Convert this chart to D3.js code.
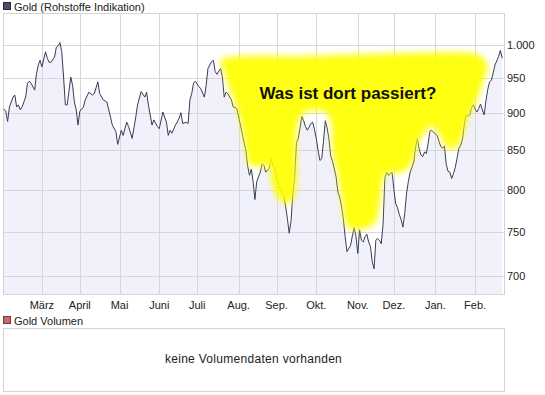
<!DOCTYPE html>
<html>
<head>
<meta charset="utf-8">
<script src="https://cdn.jsdelivr.net/npm/d3@7"></script>
<style>
  body { margin: 0; background: #fff; }
  svg { display: block; font-family: "Liberation Sans", Arial, sans-serif; }
</style>
</head>
<body>
<svg id="chart" width="545" height="395"></svg>
<script>
// Gold price, trading days Feb 2008 - Feb 2009
const dates = [
  "2008-02-01","2008-02-04","2008-02-05","2008-02-06","2008-02-08","2008-02-11","2008-02-12","2008-02-13","2008-02-14","2008-02-15",
  "2008-02-19","2008-02-20","2008-02-21","2008-02-22","2008-02-26","2008-02-27","2008-02-28","2008-02-29",
  "2008-03-03","2008-03-05","2008-03-06","2008-03-07","2008-03-10","2008-03-12","2008-03-13","2008-03-14","2008-03-17","2008-03-18",
  "2008-03-19","2008-03-20","2008-03-21","2008-03-25","2008-03-26","2008-03-27","2008-03-28","2008-03-31",
  "2008-04-01","2008-04-03","2008-04-04","2008-04-08","2008-04-10","2008-04-11","2008-04-15","2008-04-16","2008-04-18","2008-04-22",
  "2008-04-24","2008-04-25","2008-04-29","2008-04-30",
  "2008-05-02","2008-05-05","2008-05-07","2008-05-08","2008-05-12","2008-05-14","2008-05-15","2008-05-19","2008-05-21","2008-05-22",
  "2008-05-23","2008-05-27","2008-05-28","2008-05-30",
  "2008-06-02","2008-06-04","2008-06-06","2008-06-09","2008-06-10","2008-06-11","2008-06-13","2008-06-17","2008-06-18","2008-06-19",
  "2008-06-23","2008-06-24","2008-06-25","2008-06-26","2008-06-27","2008-06-30",
  "2008-07-02","2008-07-03","2008-07-07","2008-07-08","2008-07-09","2008-07-11","2008-07-14","2008-07-15","2008-07-16","2008-07-18",
  "2008-07-21","2008-07-22","2008-07-23","2008-07-24","2008-07-28","2008-07-29","2008-07-31",
  "2008-08-04","2008-08-06","2008-08-07","2008-08-08","2008-08-11","2008-08-12","2008-08-13","2008-08-14","2008-08-15","2008-08-19",
  "2008-08-20","2008-08-21","2008-08-22","2008-08-26","2008-08-27","2008-08-28","2008-08-29",
  "2008-09-01","2008-09-02","2008-09-03","2008-09-04","2008-09-05","2008-09-08","2008-09-09","2008-09-10","2008-09-11","2008-09-12",
  "2008-09-15","2008-09-16","2008-09-17","2008-09-18","2008-09-19","2008-09-22","2008-09-23","2008-09-24","2008-09-25","2008-09-26",
  "2008-09-29","2008-09-30",
  "2008-10-01","2008-10-02","2008-10-03","2008-10-06","2008-10-07","2008-10-08","2008-10-09","2008-10-10","2008-10-13","2008-10-14",
  "2008-10-15","2008-10-16","2008-10-17","2008-10-20","2008-10-21","2008-10-22","2008-10-23","2008-10-24","2008-10-28","2008-10-29",
  "2008-10-30","2008-10-31",
  "2008-11-03","2008-11-04","2008-11-05","2008-11-06","2008-11-07","2008-11-10","2008-11-11","2008-11-12","2008-11-13","2008-11-14",
  "2008-11-17","2008-11-18","2008-11-19","2008-11-20","2008-11-21","2008-11-24","2008-11-25","2008-11-26","2008-11-27","2008-11-28",
  "2008-12-01","2008-12-02","2008-12-03","2008-12-04","2008-12-05","2008-12-08","2008-12-09","2008-12-10","2008-12-11","2008-12-12",
  "2008-12-15","2008-12-16","2008-12-17","2008-12-18","2008-12-19","2008-12-22","2008-12-23","2008-12-24","2008-12-25","2008-12-26",
  "2008-12-29","2008-12-30","2008-12-31",
  "2009-01-01","2009-01-02","2009-01-05","2009-01-06","2009-01-07","2009-01-08","2009-01-09","2009-01-12","2009-01-13","2009-01-14",
  "2009-01-15","2009-01-16","2009-01-19","2009-01-20","2009-01-21","2009-01-22","2009-01-23","2009-01-26","2009-01-27","2009-01-28",
  "2009-01-29","2009-01-30",
  "2009-02-02","2009-02-03","2009-02-04","2009-02-05","2009-02-06","2009-02-09","2009-02-10","2009-02-11","2009-02-12","2009-02-13",
  "2009-02-16","2009-02-17","2009-02-18","2009-02-19","2009-02-20","2009-02-23"
];
const prices = [
  906,903,889,909,923,926,909,912,905,909,
  923,943,946,943,933,957,970,977,
  967,990,980,974,974,982,997,999,1004,990,
  952,912,912,952,940,916,905,884,
  903,909,919,930,926,928,945,928,919,916,
  895,884,875,858,
  877,870,888,882,866,895,912,931,923,930,
  912,884,891,882,
  879,902,888,870,877,873,884,893,901,886,
  888,886,919,928,943,946,
  938,935,923,940,965,975,977,960,956,965,
  952,923,930,928,919,909,907,
  884,861,850,830,818,826,810,788,810,822,
  833,831,822,827,840,830,828,
  815,805,800,796,792,780,765,748,762,795,
  815,860,866,880,896,890,882,877,881,886,
  888,878,
  866,850,837,839,862,890,880,866,843,836,
  826,816,797,791,780,765,744,727,734,745,
  755,744,
  725,752,740,738,744,747,738,733,716,708,
  740,742,740,736,758,815,822,818,820,822,
  800,783,778,770,764,755,771,795,810,822,
  828,835,855,866,852,844,842,848,846,860,
  876,877,874,
  872,870,862,855,853,856,832,823,822,814,
  820,828,840,853,857,865,885,898,896,898,
  908,912,
  906,902,907,913,905,898,918,934,945,947,
  958,970,976,983,992,980
];

const monthLabels = ["März","April","Mai","Juni","Juli","Aug.","Sep.","Okt.","Nov.","Dez.","Jan.","Feb."];
const yTicks = [700, 750, 800, 850, 900, 950, 1000];
const yDomain = [681, 1051];

// yellow marker blob, as [trading day index, price]
const highlight = [
  [120,977],[131,983],[164,983],[197,986],[230,988],[258,988],[265,982],[268,968],[266,950],
  [262,919],[257,893],[254,869],[250,853],[245,854],[242,868],[237,882],[233,874],[229,857],
  [227,840],[224,827],[218,821],[212,821],[210,812],[208,781],[206,761],[201,754],[192,753],
  [189,761],[187,790],[185,818],[182,850],[181,888],[178,902],[167,902],[163,888],[162,864],
  [162,806],[160,787],[156,783],[151,792],[148,812],[147,829],[142,830],[136,831],[134,850],
  [132,877],[129,907],[125,933],[122,959]
];
const noteText = "Was ist dort passiert?";
const notePos = [190.5, 921];

const parse = d3.timeParse("%Y-%m-%d");
const weekday = d3.timeDay.filter(d => d.getDay() !== 0 && d.getDay() !== 6);
const firstDay = parse("2008-02-01");
const lastDay = parse("2009-02-24");
const tIndex = d => weekday.range(firstDay, d).length;

const series = dates.map((d, i) => ({ t: tIndex(parse(d)), v: prices[i] }));

const pL = 3, pR = 504, pT = 13, pB = 294;
const svg = d3.select("#chart");

const x = d3.scaleLinear().domain([0, tIndex(lastDay)]).range([pL + 1, pR]);
const y = d3.scaleLog().domain(yDomain).range([pB, pT]);

const de = d3.formatLocale({ decimal: ",", thousands: ".", grouping: [3], currency: ["", " €"] });
const fmt = de.format(",d");

// titles
svg.append("rect").attr("x", 3.5).attr("y", 2.5).attr("width", 7).attr("height", 7)
  .attr("fill", "#4c4c6c").attr("stroke", "#2a2a3a");
svg.append("text").attr("x", 14).attr("y", 11).attr("font-size", 11).attr("fill", "#222")
  .text("Gold (Rohstoffe Indikation)");

const defs = svg.append("defs");
defs.append("clipPath").attr("id", "plot")
  .append("rect").attr("x", pL).attr("y", pT).attr("width", pR - pL).attr("height", pB - pT);
const blur = defs.append("filter").attr("id", "soft")
  .attr("x", "-10%").attr("y", "-10%").attr("width", "120%").attr("height", "120%");
blur.append("feGaussianBlur").attr("stdDeviation", 3);

svg.append("rect").attr("x", pL + 0.5).attr("y", pT + 0.5)
  .attr("width", pR - pL).attr("height", pB - pT)
  .attr("fill", "#fff").attr("stroke", "#d4d4d8");

const g = svg.append("g").attr("clip-path", "url(#plot)");

g.append("path").datum(series)
  .attr("fill", "#f1f1fb")
  .attr("d", d3.area().x(d => x(d.t)).y0(pB).y1(d => y(d.v)));

// grid
const months = d3.timeMonth.range(parse("2008-03-01"), parse("2009-02-02")).map(m => tIndex(weekday.ceil(m)));
g.selectAll(".vg").data(months).enter().append("line")
  .attr("x1", d => Math.round(x(d)) + 0.5).attr("x2", d => Math.round(x(d)) + 0.5)
  .attr("y1", pT).attr("y2", pB)
  .attr("stroke", "#d6d6dc");
g.selectAll(".hg").data(yTicks).enter().append("line")
  .attr("x1", pL).attr("x2", pR)
  .attr("y1", d => Math.round(y(d)) + 0.5).attr("y2", d => Math.round(y(d)) + 0.5)
  .attr("stroke", "#d6d6dc");

g.append("path").datum(series)
  .attr("fill", "none").attr("stroke", "#3a3a58").attr("stroke-width", 1)
  .attr("d", d3.line().x(d => x(d.t)).y(d => y(d.v)));

// the yellow marker
g.append("path").datum(highlight)
  .attr("fill", "#ffff00").attr("fill-opacity", 0.93)
  .attr("filter", "url(#soft)")
  .attr("d", d3.line().x(d => x(d[0])).y(d => y(d[1])).curve(d3.curveCatmullRomClosed));

svg.append("text")
  .attr("x", x(notePos[0])).attr("y", y(notePos[1]))
  .attr("text-anchor", "middle").attr("font-size", 17).attr("font-weight", "bold").attr("fill", "#111")
  .text(noteText);

svg.append("line").attr("x1", pL).attr("x2", pR + 1).attr("y1", pB + 0.5).attr("y2", pB + 0.5)
  .attr("stroke", "#d4d4d8");

// axes labels
svg.selectAll(".ml").data(months).enter().append("text")
  .attr("x", d => x(d)).attr("y", 309)
  .attr("text-anchor", "middle").attr("font-size", 11).attr("fill", "#222")
  .text((d, i) => monthLabels[i]);

svg.selectAll(".yl").data(yTicks).enter().append("text")
  .attr("x", pR + 3).attr("y", d => y(d) + 4)
  .attr("font-size", 11).attr("fill", "#222")
  .text(d => fmt(d));

// volume panel
svg.append("rect").attr("x", 3.5).attr("y", 316.5).attr("width", 7).attr("height", 7)
  .attr("fill", "#c46a6a").attr("stroke", "#7a3a3a");
svg.append("text").attr("x", 14).attr("y", 325).attr("font-size", 11).attr("fill", "#222")
  .text("Gold Volumen");
svg.append("rect").attr("x", pL + 0.5).attr("y", 328.5).attr("width", pR - pL).attr("height", 63)
  .attr("fill", "#fff").attr("stroke", "#d4d4d8");
svg.append("text").attr("x", (pL + pR) / 2).attr("y", 363)
  .attr("text-anchor", "middle").attr("font-size", 12).attr("letter-spacing", 0.3).attr("fill", "#222")
  .text("keine Volumendaten vorhanden");
</script>
</body>
</html>
